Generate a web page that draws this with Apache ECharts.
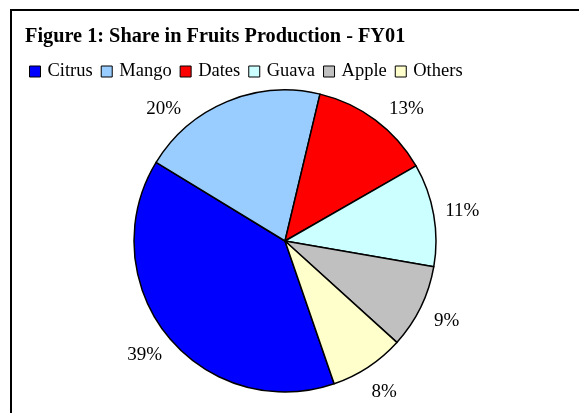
<!DOCTYPE html>
<html>
<head>
<meta charset="utf-8">
<script src="https://cdn.jsdelivr.net/npm/echarts@6/dist/echarts.min.js"></script>
<style>
  html, body { margin: 0; padding: 0; background: #fff; }
  #chart { width: 579px; height: 413px; }
</style>
</head>
<body>
<div id="chart"></div>
<script>
// Fruit production shares, FY01 (percent of total)
const categories = ['Citrus', 'Mango', 'Dates', 'Guava', 'Apple', 'Others'];
const shares = [39, 20, 13, 11, 9, 8];
const colors = ['#0000FF', '#99CCFF', '#FF0000', '#CCFFFF', '#C0C0C0', '#FFFFCC'];

const serif = '"Liberation Serif", "Times New Roman", serif';
const pieCenter = [285, 241];
const pieRadius = 151;
const startAngle = -71;
// Percent labels sit on a ring just outside the pie; those that would
// run into the legend slide along that ring until they clear it.
const labelRing = [167, 187];
const labelMinY = 108;

const chart = echarts.init(document.getElementById('chart'), null, { renderer: 'canvas' });

const pieData = categories.map((name, i) => ({ name: name, value: shares[i] }));

chart.setOption({
  backgroundColor: '#ffffff',
  animation: false,
  color: colors,
  graphic: [{
    type: 'polyline',
    shape: { points: [[11, 413], [11, 10], [579, 10]] },
    style: { stroke: '#000', lineWidth: 2, fill: null }
  }],
  title: {
    text: 'Figure 1: Share in Fruits Production - FY01',
    left: 25,
    top: 27,
    padding: 0,
    textStyle: { fontFamily: serif, fontWeight: 'bold', fontSize: 20.3, color: '#000' }
  },
  legend: {
    left: 29,
    top: 62,
    padding: 0,
    icon: 'rect',
    itemWidth: 11,
    itemHeight: 11,
    itemGap: 8,
    selectedMode: false,
    data: categories,
    itemStyle: { borderColor: '#000', borderWidth: 1 },
    textStyle: { fontFamily: serif, fontSize: 18.5, color: '#000', padding: [0, 0, 0, 2] }
  },
  series: [{
    type: 'pie',
    center: pieCenter,
    radius: pieRadius,
    startAngle: startAngle,
    clockwise: true,
    avoidLabelOverlap: false,
    itemStyle: { borderColor: '#000', borderWidth: 1.5 },
    emphasis: { disabled: true },
    label: { show: false },
    labelLine: { show: false },
    data: pieData
  }, {
    // invisible ring that carries the percentage labels
    type: 'pie',
    center: pieCenter,
    radius: labelRing,
    startAngle: startAngle,
    clockwise: true,
    silent: true,
    avoidLabelOverlap: false,
    itemStyle: { color: 'rgba(0,0,0,0)', borderWidth: 0 },
    emphasis: { disabled: true },
    label: {
      show: true,
      position: 'inside',
      formatter: '{c}%',
      fontFamily: serif,
      fontSize: 19,
      color: '#000'
    },
    labelLine: { show: false },
    labelLayout: function (p) {
      const r = p.labelRect;
      let x = r.x + r.width / 2;
      let y = r.y + r.height / 2;
      if (y < labelMinY) {
        const dx = x - pieCenter[0];
        const dist = Math.hypot(dx, y - pieCenter[1]);
        const ny = labelMinY - pieCenter[1];
        x = pieCenter[0] + Math.sign(dx) * Math.sqrt(Math.max(dist * dist - ny * ny, 0));
        y = labelMinY;
      }
      return { x: x, y: y + 1, align: 'center', verticalAlign: 'middle' };
    },
    data: pieData
  }]
});
</script>
</body>
</html>
